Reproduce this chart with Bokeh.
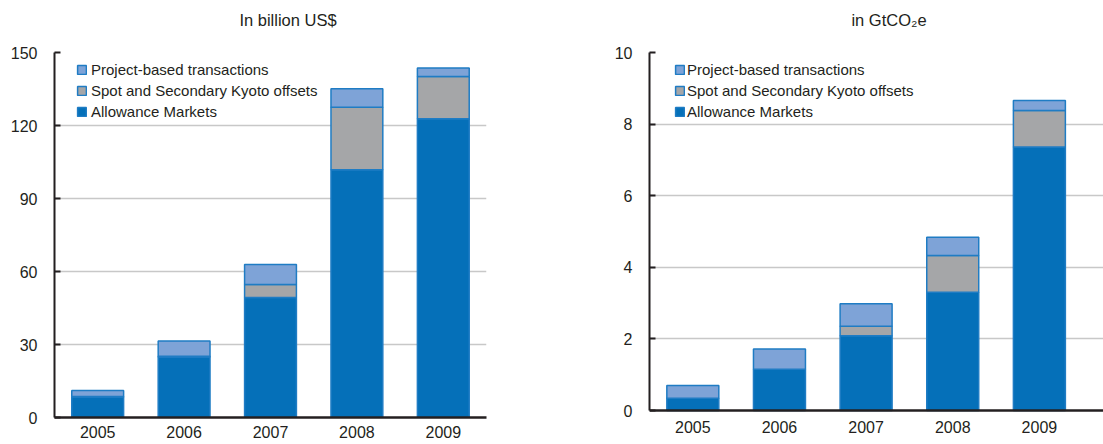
from bokeh.plotting import figure
from bokeh.layouts import row, column
from bokeh.models import ColumnDataSource, Legend, LegendItem, FixedTicker, Span, Div
from bokeh.embed import file_html
from bokeh.resources import INLINE

years = ["2005", "2006", "2007", "2008", "2009"]
series = ["Allowance Markets", "Spot and Secondary Kyoto offsets", "Project-based transactions"]

usd_allowance = [8.4, 24.9, 49.3, 101.8, 122.8]
usd_spot = [0.2, 0.3, 5.4, 25.7, 17.3]
usd_project = [2.5, 6.2, 8.2, 7.6, 3.5]

gt_allowance = [0.34, 1.15, 2.09, 3.30, 7.36]
gt_spot = [0.0, 0.0, 0.26, 1.03, 1.02]
gt_project = [0.36, 0.57, 0.63, 0.51, 0.28]

usd_ticks = [0, 30, 60, 90, 120, 150]
gt_ticks = [0, 2, 4, 6, 8, 10]

COLORS = ["#0570B9", "#A5A6A8", "#7EA3D7"]
EDGE = "#1F7CC4"
FONT = "Liberation Sans"
TXT = "#231F20"
HEAD = 40
H = 444 - HEAD
TOP = 12
BOT = 27
FRAME_H = H - TOP - BOT


def title_div(text, width, center):
    html = ("<div style=\"margin-left:%dpx;width:200px;text-align:center;"
            "font-family:'Liberation Sans';font-size:16.5px;color:%s;"
            "line-height:%dpx;height:%dpx;white-space:nowrap\">%s</div>"
            % (center - 100, TXT, HEAD, HEAD, text))
    return Div(text=html, width=width, height=HEAD, margin=0)


def make_panel(alloc, spot, proj, ymin, ymax, ticks, width, bl, br, xstand,
               xend, leg_x, leg_standoff, span_axis):
    src = ColumnDataSource(dict(x=list(range(len(years))), a=alloc, s=spot, p=proj))
    p = figure(width=width, height=H, output_backend="svg", toolbar_location=None,
               x_range=(-0.5, xend), y_range=(ymin, ymax),
               min_border_left=bl, min_border_right=br, min_border_top=TOP,
               min_border_bottom=BOT)
    p.outline_line_color = None
    p.background_fill_color = "white"
    rs = p.vbar_stack(["a", "s", "p"], x="x", width=0.6, source=src,
                      fill_color=COLORS, line_color=EDGE, line_width=1.5)

    p.xgrid.grid_line_color = None
    p.ygrid.grid_line_color = "#C8C8C8"
    p.ygrid.grid_line_width = 1.5
    p.ygrid.ticker = FixedTicker(ticks=ticks[1:])

    p.yaxis.ticker = FixedTicker(ticks=ticks)
    p.yaxis.bounds = (0, ymax)
    p.yaxis.axis_line_width = 2
    p.yaxis.axis_line_color = TXT
    p.yaxis.major_tick_in = 6
    p.yaxis.major_tick_out = 0
    p.yaxis.major_tick_line_width = 2
    p.yaxis.major_tick_line_color = TXT
    p.yaxis.minor_tick_line_color = None
    p.yaxis.major_label_standoff = 17
    p.yaxis.major_label_text_font = FONT
    p.yaxis.major_label_text_font_size = "16px"
    p.yaxis.major_label_text_color = TXT

    p.xaxis.ticker = FixedTicker(ticks=list(range(len(years))))
    p.xaxis.major_label_overrides = {i: y for i, y in enumerate(years)}
    p.xaxis.axis_line_width = 2.5
    p.xaxis.axis_line_color = None if span_axis else TXT
    p.xaxis.major_tick_in = 0
    p.xaxis.major_tick_out = 0
    p.xaxis.major_tick_line_color = None
    p.xaxis.minor_tick_line_color = None
    p.xaxis.major_label_standoff = xstand
    p.xaxis.major_label_text_font = FONT
    p.xaxis.major_label_text_font_size = "16px"
    p.xaxis.major_label_text_color = TXT
    if span_axis:
        p.add_layout(Span(location=0, dimension="width", line_color=TXT, line_width=2.5))

    items = [LegendItem(label=series[2], renderers=[rs[2]]),
             LegendItem(label=series[1], renderers=[rs[1]]),
             LegendItem(label=series[0], renderers=[rs[0]])]
    leg = Legend(items=items, location=(leg_x, FRAME_H - 7 - 63), orientation="vertical",
                 glyph_width=11, glyph_height=11, label_standoff=leg_standoff,
                 label_text_font=FONT, label_text_font_size="15px", label_text_color=TXT,
                 label_height=21, spacing=0, padding=0, margin=0,
                 border_line_color=None, background_fill_alpha=0)
    p.add_layout(leg, "center")
    return p


p1 = make_panel(usd_allowance, usd_spot, usd_project, 0, 150, usd_ticks,
                550, 54, 64, 8, 4.5, 22, 4, False)
p2 = make_panel(gt_allowance, gt_spot, gt_project, -0.1955, 10, gt_ticks,
                553, 99, 0, 3, 4.74, 25, 2, True)

d1 = title_div("In billion US$", 550, 288)
d2 = title_div("in GtCO\u2082e", 553, 339)

layout = column(row(d1, d2), row(p1, p2))
open("out.html", "w").write(file_html(layout, INLINE))
